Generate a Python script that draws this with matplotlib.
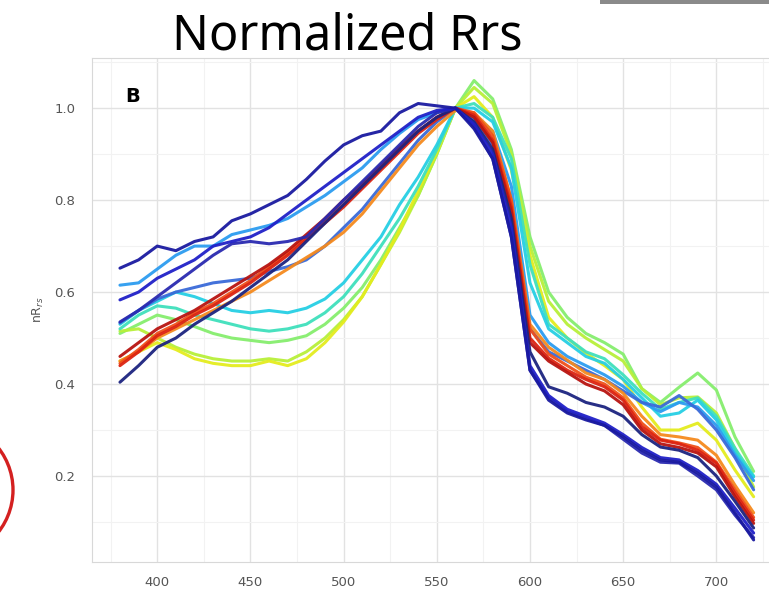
import matplotlib
matplotlib.use("Agg")
import matplotlib.pyplot as plt
from matplotlib.patches import Circle, Rectangle
from matplotlib.transforms import IdentityTransform
from matplotlib.ticker import MultipleLocator

wavelength = [380, 390, 400, 410, 420, 430, 440, 450, 460, 470, 480, 490, 500, 510,
              520, 530, 540, 550, 560, 570, 580, 590, 600, 610, 620, 630, 640, 650,
              660, 670, 680, 690, 700, 710, 720]

green = [.51, .53, .55, .54, .525, .51, .50, .495, .49, .495, .505, .53, .565, .61, .67, .74, .81, .90, 1.0,
         1.06, 1.02, .91, .72, .60, .545, .51, .49, .465, .39, .36, .393, .424, .387, .285, .21]
lime = [.515, .52, .50, .48, .465, .455, .45, .45, .455, .45, .47, .50, .54, .59, .66, .73, .81, .90, 1.0,
        1.045, 1.01, .90, .70, .58, .53, .50, .475, .45, .39, .355, .37, .372, .337, .26, .176]
yellow = [.45, .47, .49, .475, .455, .445, .44, .44, .45, .44, .455, .49, .535, .59, .66, .735, .82, .905, 1.0,
          1.025, .98, .865, .68, .545, .50, .467, .44, .41, .35, .30, .30, .315, .278, .213, .155]
aqua = [.52, .55, .57, .565, .55, .54, .53, .52, .515, .52, .53, .555, .59, .64, .70, .76, .83, .91, 1.0,
        1.01, .98, .89, .66, .53, .50, .47, .455, .42, .38, .345, .36, .37, .33, .26, .20]
cyan = [.53, .56, .58, .60, .59, .575, .56, .555, .56, .555, .565, .585, .62, .67, .72, .79, .85, .92, 1.0,
        1.0, .97, .87, .62, .52, .49, .46, .445, .41, .37, .33, .337, .365, .322, .25, .198]
azure = [.615, .62, .65, .68, .70, .70, .725, .735, .745, .76, .785, .81, .84, .87, .91, .945, .975, .99, 1.0,
         .985, .95, .83, .55, .49, .46, .44, .42, .395, .36, .34, .36, .35, .31, .245, .19]
medblue = [.533, .56, .585, .60, .61, .62, .625, .63, .645, .655, .67, .70, .74, .78, .83, .88, .93, .97, 1.0,
           .975, .92, .79, .52, .47, .45, .43, .41, .385, .36, .35, .375, .345, .30, .24, .17]
orange = [.45, .47, .50, .52, .54, .56, .58, .60, .625, .65, .675, .70, .73, .77, .82, .87, .92, .96, .995,
          .99, .95, .80, .53, .48, .452, .424, .41, .38, .33, .29, .285, .278, .245, .18, .12]
redorange = [.445, .475, .51, .53, .555, .575, .60, .625, .655, .685, .72, .755, .79, .83, .87, .91, .95, .98, 1.0,
             .99, .94, .80, .52, .465, .44, .415, .40, .37, .315, .28, .272, .262, .23, .17, .11]
red = [.44, .47, .505, .525, .55, .57, .595, .62, .65, .68, .715, .75, .785, .825, .865, .905, .945, .975, 1.0,
       .985, .93, .785, .50, .456, .43, .41, .394, .365, .307, .278, .27, .256, .228, .163, .104]
darkred = [.46, .49, .52, .54, .56, .585, .61, .635, .66, .69, .725, .76, .80, .835, .875, .915, .95, .98, 1.0,
           .98, .925, .775, .49, .45, .425, .40, .385, .355, .30, .27, .262, .25, .22, .155, .097]
navy_low = [.404, .44, .48, .50, .53, .555, .58, .61, .64, .67, .71, .75, .79, .83, .87, .91, .95, .98, 1.0,
            .97, .91, .76, .47, .394, .38, .36, .35, .33, .29, .263, .256, .24, .20, .145, .087]
blue_plateau = [.535, .56, .59, .62, .65, .68, .705, .71, .705, .71, .72, .76, .80, .84, .88, .92, .96, .99, 1.0,
                .96, .89, .72, .43, .37, .34, .325, .31, .28, .25, .23, .228, .20, .17, .115, .066]
blue2 = [.583, .60, .63, .65, .67, .70, .71, .72, .74, .77, .80, .83, .86, .89, .92, .95, .98, .995, 1.0,
         .965, .90, .74, .44, .375, .345, .33, .315, .29, .262, .24, .235, .212, .182, .13, .076]
navy_top = [.652, .67, .70, .69, .71, .72, .755, .77, .79, .81, .845, .885, .92, .94, .95, .99, 1.01, 1.005, 1.0,
            .955, .89, .72, .43, .365, .337, .322, .31, .285, .256, .235, .23, .206, .176, .12, .061]

series = [
    (green, "#86ee6e"),
    (lime, "#b8f03a"),
    (yellow, "#e4ec1e"),
    (aqua, "#3fe0bc"),
    (cyan, "#26cfe4"),
    (azure, "#2c9cf0"),
    (medblue, "#3a6ad8"),
    (orange, "#f58a1e"),
    (redorange, "#f0501a"),
    (red, "#dc2412"),
    (darkred, "#b81410"),
    (navy_low, "#1c2480"),
    (blue_plateau, "#2a2ab0"),
    (blue2, "#2020c8"),
    (navy_top, "#1a1aa0"),
]

W, H = 769, 597
fig = plt.figure(figsize=(W / 100, H / 100), dpi=100)
ax = fig.add_axes([92 / W, 1 - 562 / H, (776 - 92) / W, (562 - 58) / H])

for vals, col in series:
    ax.plot(wavelength, vals, color=col, lw=2.2, alpha=0.95, solid_capstyle="round",
            solid_joinstyle="round", zorder=3)

ax.set_xlim(365, 732)
ax.set_ylim(0.013, 1.109)
ax.xaxis.set_major_locator(MultipleLocator(50))
ax.xaxis.set_minor_locator(MultipleLocator(25))
ax.yaxis.set_major_locator(MultipleLocator(0.2))
ax.yaxis.set_minor_locator(MultipleLocator(0.1))
ax.set_yticks([0.2, 0.4, 0.6, 0.8, 1.0])
ax.set_yticklabels(["0.2", "0.4", "0.6", "0.8", "1.0"])
ax.grid(which="major", color="#e2e2e2", lw=1.0, zorder=0)
ax.grid(which="minor", color="#f2f2f2", lw=0.8, zorder=0)
ax.tick_params(axis="y", which="both", length=0, colors="#555555", labelsize=9.5, pad=12)
ax.tick_params(axis="x", which="both", length=0, colors="#555555", labelsize=9.5, pad=10)
for s in ax.spines.values():
    s.set_color("#d8d8d8")
ax.set_ylabel(r"nR$_{rs}$", color="#555555", fontsize=9, labelpad=6)

ax.text(133, H - 97, "B", transform=IdentityTransform(), fontsize=14, fontweight="bold",
        ha="center", va="center", family="DejaVu Sans")

fig.text(347 / W, 1 - 50 / H, "Normalized Rrs", fontsize=35, family="Noto Sans",
         ha="center", va="baseline", color="black")

# decorations from the source slide
circ = Circle((-55, H - 490), 68, transform=IdentityTransform(), fill=False,
              edgecolor="#d42020", lw=2.4)
fig.add_artist(circ)
rect = Rectangle((600, H - 4), 169, 4, transform=IdentityTransform(),
                 facecolor="#8a8a8a", edgecolor="none")
fig.add_artist(rect)

fig.savefig("out.png", dpi=100)
